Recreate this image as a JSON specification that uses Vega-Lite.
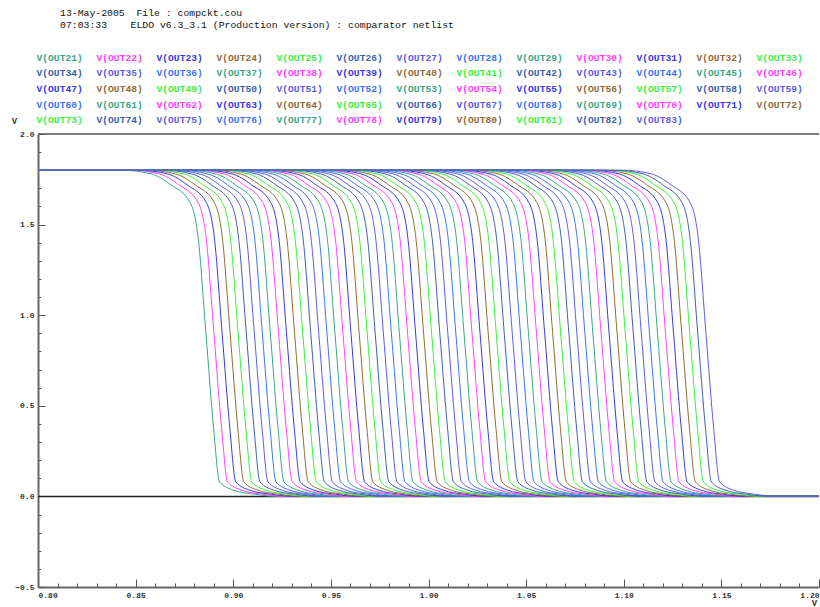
{
  "$schema": "https://vega.github.io/schema/vega-lite/v6.json",
  "width": 781,
  "height": 453,
  "autosize": {"type": "none"},
  "padding": {"left": 38, "top": 134, "right": 1, "bottom": 20},
  "background": "white",
  "title": {
    "text": ["13-May-2005\u00a0\u00a0File : compckt.cou", "\u00a007:03:33\u00a0\u00a0\u00a0\u00a0ELDO v6.3_3.1 (Production version) : comparator netlist"],
    "anchor": "start",
    "frame": "group",
    "orient": "top",
    "dx": 22,
    "dy": -15,
    "font": "Liberation Mono",
    "fontSize": 9.8,
    "fontWeight": "normal",
    "color": "#111111",
    "lineHeight": 12,
    "offset": 8
  },
  "config": {
    "view": {"stroke": null},
    "axis": {
      "labelFont": "Liberation Mono",
      "labelFontWeight": "bold",
      "labelFontSize": 8,
      "labelColor": "#333333",
      "domainColor": "#666666",
      "domainWidth": 2,
      "tickColor": "#555555",
      "grid": false,
      "titleFont": "Liberation Mono",
      "titleFontWeight": "bold",
      "titleFontSize": 9,
      "titleColor": "#333333"
    }
  },
  "datasets": {
    "curves": [
      {"s":"V(OUT21)","x":[0.8,0.8430,0.8580,0.8680,0.8780,0.8820,0.8860,0.8900,0.8930,0.9000,0.9110,0.9230,1.2],"y":[1.8,1.8,1.78,1.72,1.62,1.43,0.9,0.37,0.08,0.035,0.012,0,0]},
      {"s":"V(OUT22)","x":[0.8,0.8471,0.8621,0.8721,0.8821,0.8861,0.8901,0.8941,0.8971,0.9041,0.9151,0.9271,1.2],"y":[1.8,1.8,1.78,1.72,1.62,1.43,0.9,0.37,0.08,0.035,0.012,0,0]},
      {"s":"V(OUT23)","x":[0.8,0.8513,0.8663,0.8763,0.8863,0.8903,0.8943,0.8983,0.9013,0.9083,0.9193,0.9313,1.2],"y":[1.8,1.8,1.78,1.72,1.62,1.43,0.9,0.37,0.08,0.035,0.012,0,0]},
      {"s":"V(OUT24)","x":[0.8,0.8554,0.8704,0.8804,0.8904,0.8944,0.8984,0.9024,0.9054,0.9124,0.9234,0.9354,1.2],"y":[1.8,1.8,1.78,1.72,1.62,1.43,0.9,0.37,0.08,0.035,0.012,0,0]},
      {"s":"V(OUT25)","x":[0.8,0.8595,0.8745,0.8845,0.8945,0.8985,0.9025,0.9065,0.9095,0.9165,0.9275,0.9395,1.2],"y":[1.8,1.8,1.78,1.72,1.62,1.43,0.9,0.37,0.08,0.035,0.012,0,0]},
      {"s":"V(OUT26)","x":[0.8,0.8637,0.8787,0.8887,0.8987,0.9027,0.9067,0.9107,0.9137,0.9207,0.9317,0.9437,1.2],"y":[1.8,1.8,1.78,1.72,1.62,1.43,0.9,0.37,0.08,0.035,0.012,0,0]},
      {"s":"V(OUT27)","x":[0.8,0.8678,0.8828,0.8928,0.9028,0.9068,0.9108,0.9148,0.9178,0.9248,0.9358,0.9478,1.2],"y":[1.8,1.8,1.78,1.72,1.62,1.43,0.9,0.37,0.08,0.035,0.012,0,0]},
      {"s":"V(OUT28)","x":[0.8,0.8719,0.8869,0.8969,0.9069,0.9109,0.9149,0.9189,0.9219,0.9289,0.9399,0.9519,1.2],"y":[1.8,1.8,1.78,1.72,1.62,1.43,0.9,0.37,0.08,0.035,0.012,0,0]},
      {"s":"V(OUT29)","x":[0.8,0.8760,0.8910,0.9010,0.9110,0.9150,0.9190,0.9230,0.9260,0.9330,0.9440,0.9560,1.2],"y":[1.8,1.8,1.78,1.72,1.62,1.43,0.9,0.37,0.08,0.035,0.012,0,0]},
      {"s":"V(OUT30)","x":[0.8,0.8802,0.8952,0.9052,0.9152,0.9192,0.9232,0.9272,0.9302,0.9372,0.9482,0.9602,1.2],"y":[1.8,1.8,1.78,1.72,1.62,1.43,0.9,0.37,0.08,0.035,0.012,0,0]},
      {"s":"V(OUT31)","x":[0.8,0.8843,0.8993,0.9093,0.9193,0.9233,0.9273,0.9313,0.9343,0.9413,0.9523,0.9643,1.2],"y":[1.8,1.8,1.78,1.72,1.62,1.43,0.9,0.37,0.08,0.035,0.012,0,0]},
      {"s":"V(OUT32)","x":[0.8,0.8884,0.9034,0.9134,0.9234,0.9274,0.9314,0.9354,0.9384,0.9454,0.9564,0.9684,1.2],"y":[1.8,1.8,1.78,1.72,1.62,1.43,0.9,0.37,0.08,0.035,0.012,0,0]},
      {"s":"V(OUT33)","x":[0.8,0.8926,0.9076,0.9176,0.9276,0.9316,0.9356,0.9396,0.9426,0.9496,0.9606,0.9726,1.2],"y":[1.8,1.8,1.78,1.72,1.62,1.43,0.9,0.37,0.08,0.035,0.012,0,0]},
      {"s":"V(OUT34)","x":[0.8,0.8967,0.9117,0.9217,0.9317,0.9357,0.9397,0.9437,0.9467,0.9537,0.9647,0.9767,1.2],"y":[1.8,1.8,1.78,1.72,1.62,1.43,0.9,0.37,0.08,0.035,0.012,0,0]},
      {"s":"V(OUT35)","x":[0.8,0.9008,0.9158,0.9258,0.9358,0.9398,0.9438,0.9478,0.9508,0.9578,0.9688,0.9808,1.2],"y":[1.8,1.8,1.78,1.72,1.62,1.43,0.9,0.37,0.08,0.035,0.012,0,0]},
      {"s":"V(OUT36)","x":[0.8,0.9050,0.9200,0.9300,0.9400,0.9440,0.9480,0.9520,0.9550,0.9620,0.9730,0.9850,1.2],"y":[1.8,1.8,1.78,1.72,1.62,1.43,0.9,0.37,0.08,0.035,0.012,0,0]},
      {"s":"V(OUT37)","x":[0.8,0.9091,0.9241,0.9341,0.9441,0.9481,0.9521,0.9561,0.9591,0.9661,0.9771,0.9891,1.2],"y":[1.8,1.8,1.78,1.72,1.62,1.43,0.9,0.37,0.08,0.035,0.012,0,0]},
      {"s":"V(OUT38)","x":[0.8,0.9132,0.9282,0.9382,0.9482,0.9522,0.9562,0.9602,0.9632,0.9702,0.9812,0.9932,1.2],"y":[1.8,1.8,1.78,1.72,1.62,1.43,0.9,0.37,0.08,0.035,0.012,0,0]},
      {"s":"V(OUT39)","x":[0.8,0.9173,0.9323,0.9423,0.9523,0.9563,0.9603,0.9643,0.9673,0.9743,0.9853,0.9973,1.2],"y":[1.8,1.8,1.78,1.72,1.62,1.43,0.9,0.37,0.08,0.035,0.012,0,0]},
      {"s":"V(OUT40)","x":[0.8,0.9215,0.9365,0.9465,0.9565,0.9605,0.9645,0.9685,0.9715,0.9785,0.9895,1.0015,1.2],"y":[1.8,1.8,1.78,1.72,1.62,1.43,0.9,0.37,0.08,0.035,0.012,0,0]},
      {"s":"V(OUT41)","x":[0.8,0.9256,0.9406,0.9506,0.9606,0.9646,0.9686,0.9726,0.9756,0.9826,0.9936,1.0056,1.2],"y":[1.8,1.8,1.78,1.72,1.62,1.43,0.9,0.37,0.08,0.035,0.012,0,0]},
      {"s":"V(OUT42)","x":[0.8,0.9297,0.9447,0.9547,0.9647,0.9687,0.9727,0.9767,0.9797,0.9867,0.9977,1.0097,1.2],"y":[1.8,1.8,1.78,1.72,1.62,1.43,0.9,0.37,0.08,0.035,0.012,0,0]},
      {"s":"V(OUT43)","x":[0.8,0.9339,0.9489,0.9589,0.9689,0.9729,0.9769,0.9809,0.9839,0.9909,1.0019,1.0139,1.2],"y":[1.8,1.8,1.78,1.72,1.62,1.43,0.9,0.37,0.08,0.035,0.012,0,0]},
      {"s":"V(OUT44)","x":[0.8,0.9380,0.9530,0.9630,0.9730,0.9770,0.9810,0.9850,0.9880,0.9950,1.0060,1.0180,1.2],"y":[1.8,1.8,1.78,1.72,1.62,1.43,0.9,0.37,0.08,0.035,0.012,0,0]},
      {"s":"V(OUT45)","x":[0.8,0.9421,0.9571,0.9671,0.9771,0.9811,0.9851,0.9891,0.9921,0.9991,1.0101,1.0221,1.2],"y":[1.8,1.8,1.78,1.72,1.62,1.43,0.9,0.37,0.08,0.035,0.012,0,0]},
      {"s":"V(OUT46)","x":[0.8,0.9463,0.9613,0.9713,0.9813,0.9853,0.9893,0.9933,0.9963,1.0033,1.0143,1.0263,1.2],"y":[1.8,1.8,1.78,1.72,1.62,1.43,0.9,0.37,0.08,0.035,0.012,0,0]},
      {"s":"V(OUT47)","x":[0.8,0.9504,0.9654,0.9754,0.9854,0.9894,0.9934,0.9974,1.0004,1.0074,1.0184,1.0304,1.2],"y":[1.8,1.8,1.78,1.72,1.62,1.43,0.9,0.37,0.08,0.035,0.012,0,0]},
      {"s":"V(OUT48)","x":[0.8,0.9545,0.9695,0.9795,0.9895,0.9935,0.9975,1.0015,1.0045,1.0115,1.0225,1.0345,1.2],"y":[1.8,1.8,1.78,1.72,1.62,1.43,0.9,0.37,0.08,0.035,0.012,0,0]},
      {"s":"V(OUT49)","x":[0.8,0.9586,0.9736,0.9836,0.9936,0.9976,1.0016,1.0056,1.0086,1.0156,1.0266,1.0386,1.2],"y":[1.8,1.8,1.78,1.72,1.62,1.43,0.9,0.37,0.08,0.035,0.012,0,0]},
      {"s":"V(OUT50)","x":[0.8,0.9628,0.9778,0.9878,0.9978,1.0018,1.0058,1.0098,1.0128,1.0198,1.0308,1.0428,1.2],"y":[1.8,1.8,1.78,1.72,1.62,1.43,0.9,0.37,0.08,0.035,0.012,0,0]},
      {"s":"V(OUT51)","x":[0.8,0.9669,0.9819,0.9919,1.0019,1.0059,1.0099,1.0139,1.0169,1.0239,1.0349,1.0469,1.2],"y":[1.8,1.8,1.78,1.72,1.62,1.43,0.9,0.37,0.08,0.035,0.012,0,0]},
      {"s":"V(OUT52)","x":[0.8,0.9710,0.9860,0.9960,1.0060,1.0100,1.0140,1.0180,1.0210,1.0280,1.0390,1.0510,1.2],"y":[1.8,1.8,1.78,1.72,1.62,1.43,0.9,0.37,0.08,0.035,0.012,0,0]},
      {"s":"V(OUT53)","x":[0.8,0.9752,0.9902,1.0002,1.0102,1.0142,1.0182,1.0222,1.0252,1.0322,1.0432,1.0552,1.2],"y":[1.8,1.8,1.78,1.72,1.62,1.43,0.9,0.37,0.08,0.035,0.012,0,0]},
      {"s":"V(OUT54)","x":[0.8,0.9793,0.9943,1.0043,1.0143,1.0183,1.0223,1.0263,1.0293,1.0363,1.0473,1.0593,1.2],"y":[1.8,1.8,1.78,1.72,1.62,1.43,0.9,0.37,0.08,0.035,0.012,0,0]},
      {"s":"V(OUT55)","x":[0.8,0.9834,0.9984,1.0084,1.0184,1.0224,1.0264,1.0304,1.0334,1.0404,1.0514,1.0634,1.2],"y":[1.8,1.8,1.78,1.72,1.62,1.43,0.9,0.37,0.08,0.035,0.012,0,0]},
      {"s":"V(OUT56)","x":[0.8,0.9876,1.0026,1.0126,1.0226,1.0266,1.0306,1.0346,1.0376,1.0446,1.0556,1.0676,1.2],"y":[1.8,1.8,1.78,1.72,1.62,1.43,0.9,0.37,0.08,0.035,0.012,0,0]},
      {"s":"V(OUT57)","x":[0.8,0.9917,1.0067,1.0167,1.0267,1.0307,1.0347,1.0387,1.0417,1.0487,1.0597,1.0717,1.2],"y":[1.8,1.8,1.78,1.72,1.62,1.43,0.9,0.37,0.08,0.035,0.012,0,0]},
      {"s":"V(OUT58)","x":[0.8,0.9958,1.0108,1.0208,1.0308,1.0348,1.0388,1.0428,1.0458,1.0528,1.0638,1.0758,1.2],"y":[1.8,1.8,1.78,1.72,1.62,1.43,0.9,0.37,0.08,0.035,0.012,0,0]},
      {"s":"V(OUT59)","x":[0.8,0.9999,1.0149,1.0249,1.0349,1.0389,1.0429,1.0469,1.0499,1.0569,1.0679,1.0799,1.2],"y":[1.8,1.8,1.78,1.72,1.62,1.43,0.9,0.37,0.08,0.035,0.012,0,0]},
      {"s":"V(OUT60)","x":[0.8,1.0041,1.0191,1.0291,1.0391,1.0431,1.0471,1.0511,1.0541,1.0611,1.0721,1.0841,1.2],"y":[1.8,1.8,1.78,1.72,1.62,1.43,0.9,0.37,0.08,0.035,0.012,0,0]},
      {"s":"V(OUT61)","x":[0.8,1.0082,1.0232,1.0332,1.0432,1.0472,1.0512,1.0552,1.0582,1.0652,1.0762,1.0882,1.2],"y":[1.8,1.8,1.78,1.72,1.62,1.43,0.9,0.37,0.08,0.035,0.012,0,0]},
      {"s":"V(OUT62)","x":[0.8,1.0123,1.0273,1.0373,1.0473,1.0513,1.0553,1.0593,1.0623,1.0693,1.0803,1.0923,1.2],"y":[1.8,1.8,1.78,1.72,1.62,1.43,0.9,0.37,0.08,0.035,0.012,0,0]},
      {"s":"V(OUT63)","x":[0.8,1.0165,1.0315,1.0415,1.0515,1.0555,1.0595,1.0635,1.0665,1.0735,1.0845,1.0965,1.2],"y":[1.8,1.8,1.78,1.72,1.62,1.43,0.9,0.37,0.08,0.035,0.012,0,0]},
      {"s":"V(OUT64)","x":[0.8,1.0206,1.0356,1.0456,1.0556,1.0596,1.0636,1.0676,1.0706,1.0776,1.0886,1.1006,1.2],"y":[1.8,1.8,1.78,1.72,1.62,1.43,0.9,0.37,0.08,0.035,0.012,0,0]},
      {"s":"V(OUT65)","x":[0.8,1.0247,1.0397,1.0497,1.0597,1.0637,1.0677,1.0717,1.0747,1.0817,1.0927,1.1047,1.2],"y":[1.8,1.8,1.78,1.72,1.62,1.43,0.9,0.37,0.08,0.035,0.012,0,0]},
      {"s":"V(OUT66)","x":[0.8,1.0289,1.0439,1.0539,1.0639,1.0679,1.0719,1.0759,1.0789,1.0859,1.0969,1.1089,1.2],"y":[1.8,1.8,1.78,1.72,1.62,1.43,0.9,0.37,0.08,0.035,0.012,0,0]},
      {"s":"V(OUT67)","x":[0.8,1.0330,1.0480,1.0580,1.0680,1.0720,1.0760,1.0800,1.0830,1.0900,1.1010,1.1130,1.2],"y":[1.8,1.8,1.78,1.72,1.62,1.43,0.9,0.37,0.08,0.035,0.012,0,0]},
      {"s":"V(OUT68)","x":[0.8,1.0371,1.0521,1.0621,1.0721,1.0761,1.0801,1.0841,1.0871,1.0941,1.1051,1.1171,1.2],"y":[1.8,1.8,1.78,1.72,1.62,1.43,0.9,0.37,0.08,0.035,0.012,0,0]},
      {"s":"V(OUT69)","x":[0.8,1.0412,1.0562,1.0662,1.0762,1.0802,1.0842,1.0882,1.0912,1.0982,1.1092,1.1212,1.2],"y":[1.8,1.8,1.78,1.72,1.62,1.43,0.9,0.37,0.08,0.035,0.012,0,0]},
      {"s":"V(OUT70)","x":[0.8,1.0454,1.0604,1.0704,1.0804,1.0844,1.0884,1.0924,1.0954,1.1024,1.1134,1.1254,1.2],"y":[1.8,1.8,1.78,1.72,1.62,1.43,0.9,0.37,0.08,0.035,0.012,0,0]},
      {"s":"V(OUT71)","x":[0.8,1.0495,1.0645,1.0745,1.0845,1.0885,1.0925,1.0965,1.0995,1.1065,1.1175,1.1295,1.2],"y":[1.8,1.8,1.78,1.72,1.62,1.43,0.9,0.37,0.08,0.035,0.012,0,0]},
      {"s":"V(OUT72)","x":[0.8,1.0536,1.0686,1.0786,1.0886,1.0926,1.0966,1.1006,1.1036,1.1106,1.1216,1.1336,1.2],"y":[1.8,1.8,1.78,1.72,1.62,1.43,0.9,0.37,0.08,0.035,0.012,0,0]},
      {"s":"V(OUT73)","x":[0.8,1.0578,1.0728,1.0828,1.0928,1.0968,1.1008,1.1048,1.1078,1.1148,1.1258,1.1378,1.2],"y":[1.8,1.8,1.78,1.72,1.62,1.43,0.9,0.37,0.08,0.035,0.012,0,0]},
      {"s":"V(OUT74)","x":[0.8,1.0619,1.0769,1.0869,1.0969,1.1009,1.1049,1.1089,1.1119,1.1189,1.1299,1.1419,1.2],"y":[1.8,1.8,1.78,1.72,1.62,1.43,0.9,0.37,0.08,0.035,0.012,0,0]},
      {"s":"V(OUT75)","x":[0.8,1.0660,1.0810,1.0910,1.1010,1.1050,1.1090,1.1130,1.1160,1.1230,1.1340,1.1460,1.2],"y":[1.8,1.8,1.78,1.72,1.62,1.43,0.9,0.37,0.08,0.035,0.012,0,0]},
      {"s":"V(OUT76)","x":[0.8,1.0702,1.0852,1.0952,1.1052,1.1092,1.1132,1.1172,1.1202,1.1272,1.1382,1.1502,1.2],"y":[1.8,1.8,1.78,1.72,1.62,1.43,0.9,0.37,0.08,0.035,0.012,0,0]},
      {"s":"V(OUT77)","x":[0.8,1.0743,1.0893,1.0993,1.1093,1.1133,1.1173,1.1213,1.1243,1.1313,1.1423,1.1543,1.2],"y":[1.8,1.8,1.78,1.72,1.62,1.43,0.9,0.37,0.08,0.035,0.012,0,0]},
      {"s":"V(OUT78)","x":[0.8,1.0784,1.0934,1.1034,1.1134,1.1174,1.1214,1.1254,1.1284,1.1354,1.1464,1.1584,1.2],"y":[1.8,1.8,1.78,1.72,1.62,1.43,0.9,0.37,0.08,0.035,0.012,0,0]},
      {"s":"V(OUT79)","x":[0.8,1.0825,1.0975,1.1075,1.1175,1.1215,1.1255,1.1295,1.1325,1.1395,1.1505,1.1625,1.2],"y":[1.8,1.8,1.78,1.72,1.62,1.43,0.9,0.37,0.08,0.035,0.012,0,0]},
      {"s":"V(OUT80)","x":[0.8,1.0867,1.1017,1.1117,1.1217,1.1257,1.1297,1.1337,1.1367,1.1437,1.1547,1.1667,1.2],"y":[1.8,1.8,1.78,1.72,1.62,1.43,0.9,0.37,0.08,0.035,0.012,0,0]},
      {"s":"V(OUT81)","x":[0.8,1.0908,1.1058,1.1158,1.1258,1.1298,1.1338,1.1378,1.1408,1.1478,1.1588,1.1708,1.2],"y":[1.8,1.8,1.78,1.72,1.62,1.43,0.9,0.37,0.08,0.035,0.012,0,0]},
      {"s":"V(OUT82)","x":[0.8,1.0949,1.1099,1.1199,1.1299,1.1339,1.1379,1.1419,1.1449,1.1519,1.1629,1.1749,1.2],"y":[1.8,1.8,1.78,1.72,1.62,1.43,0.9,0.37,0.08,0.035,0.012,0,0]},
      {"s":"V(OUT83)","x":[0.8,1.0991,1.1141,1.1241,1.1341,1.1381,1.1421,1.1461,1.1491,1.1561,1.1671,1.1791,1.2],"y":[1.8,1.8,1.78,1.72,1.62,1.43,0.9,0.37,0.08,0.035,0.012,0,0]}
    ]
  },
  "layer": [
    {
      "data": {"values": [{}]},
      "mark": {"type": "rule", "color": "#222222", "strokeWidth": 1.5},
      "encoding": {
        "y": {
          "datum": 0,
          "type": "quantitative",
          "axis": {
            "orient": "left",
            "values": [-0.4,-0.3,-0.2,-0.1,0.1,0.2,0.3,0.4,0.6,0.7,0.8,0.9,1.1,1.2,1.3,1.4,1.6,1.7,1.8,1.9],
            "labels": false,
            "domain": false,
            "tickSize": -3,
            "tickWidth": 1,
            "title": null
          }
        }
      }
    },
    {
      "data": {"values": [{}]},
      "mark": {"type": "rule", "color": "#555555", "strokeWidth": 1.5},
      "encoding": {
        "x": {
          "datum": 0.8,
          "type": "quantitative",
          "axis": {
            "orient": "bottom",
            "values": [0.81,0.82,0.83,0.84,0.86,0.87,0.88,0.89,0.91,0.92,0.93,0.94,0.96,0.97,0.98,0.99,1.01,1.02,1.03,1.04,1.06,1.07,1.08,1.09,1.11,1.12,1.13,1.14,1.16,1.17,1.18,1.19],
            "labels": false,
            "domain": false,
            "tickSize": -4,
            "tickWidth": 1,
            "title": null
          }
        },
        "x2": {"datum": 1.2},
        "y": {"datum": 2, "type": "quantitative", "axis": null}
      }
    },
    {
      "data": {"name": "curves"},
      "transform": [{"flatten": ["x", "y"]}],
      "mark": {"type": "line", "interpolate": "monotone", "strokeWidth": 1},
      "encoding": {
        "x": {
          "field": "x",
          "type": "quantitative",
          "scale": {"domain": [0.8, 1.2], "nice": false, "zero": false},
          "axis": {
            "orient": "bottom",
            "values": [0.8,0.85,0.9,0.95,1.0,1.05,1.1,1.15,1.2],
            "format": ".2f",
            "tickSize": -8,
            "tickWidth": 1,
            "labelPadding": 12,
            "labelFlush": true,
            "title": "V",
            "titleX": 776,
            "titleY": 15,
            "titleAlign": "center",
            "titleBaseline": "middle"
          }
        },
        "y": {
          "field": "y",
          "type": "quantitative",
          "scale": {"domain": [-0.5, 2.0], "nice": false, "zero": false},
          "axis": {
            "orient": "left",
            "values": [-0.5,0,0.5,1.0,1.5,2.0],
            "format": ".1f",
            "tickSize": -7,
            "tickWidth": 1,
            "labelPadding": 11,
            "title": "V",
            "titleAngle": 0,
            "titleX": -24,
            "titleY": -14,
            "titleAlign": "center",
            "titleBaseline": "middle"
          }
        },
        "color": {
          "field": "s",
          "type": "nominal",
          "scale": {
            "domain": ["V(OUT21)","V(OUT22)","V(OUT23)","V(OUT24)","V(OUT25)","V(OUT26)","V(OUT27)","V(OUT28)","V(OUT29)","V(OUT30)","V(OUT31)","V(OUT32)","V(OUT33)","V(OUT34)","V(OUT35)","V(OUT36)","V(OUT37)","V(OUT38)","V(OUT39)","V(OUT40)","V(OUT41)","V(OUT42)","V(OUT43)","V(OUT44)","V(OUT45)","V(OUT46)","V(OUT47)","V(OUT48)","V(OUT49)","V(OUT50)","V(OUT51)","V(OUT52)","V(OUT53)","V(OUT54)","V(OUT55)","V(OUT56)","V(OUT57)","V(OUT58)","V(OUT59)","V(OUT60)","V(OUT61)","V(OUT62)","V(OUT63)","V(OUT64)","V(OUT65)","V(OUT66)","V(OUT67)","V(OUT68)","V(OUT69)","V(OUT70)","V(OUT71)","V(OUT72)","V(OUT73)","V(OUT74)","V(OUT75)","V(OUT76)","V(OUT77)","V(OUT78)","V(OUT79)","V(OUT80)","V(OUT81)","V(OUT82)","V(OUT83)"],
            "range": ["#3aa585","#ff40ff","#3838e0","#8f6a38","#38f038","#3a62aa","#5c5ce0","#3a72f5","#3aa585","#ff40ff","#3838e0","#8f6a38","#38f038","#3a62aa","#5c5ce0","#3a72f5","#3aa585","#ff40ff","#3838e0","#8f6a38","#38f038","#3a62aa","#5c5ce0","#3a72f5","#3aa585","#ff40ff","#3838e0","#8f6a38","#38f038","#3a62aa","#5c5ce0","#3a72f5","#3aa585","#ff40ff","#3838e0","#8f6a38","#38f038","#3a62aa","#5c5ce0","#3a72f5","#3aa585","#ff40ff","#3838e0","#8f6a38","#38f038","#3a62aa","#5c5ce0","#3a72f5","#3aa585","#ff40ff","#3838e0","#8f6a38","#38f038","#3a62aa","#5c5ce0","#3a72f5","#3aa585","#ff40ff","#3838e0","#8f6a38","#38f038","#3a62aa","#5c5ce0"]
          },
          "legend": {
            "orient": "none",
            "direction": "horizontal",
            "legendX": -11,
            "legendY": -81,
            "columns": 13,
            "title": null,
            "symbolLimit": 0,
            "symbolSize": 0,
            "symbolStrokeWidth": 0,
            "symbolOpacity": 0,
            "labelOffset": 0,
            "labelFont": "Liberation Mono",
            "labelFontWeight": "bold",
            "labelFontSize": 9.6,
            "columnPadding": 4,
            "rowPadding": 4.6,
            "gridAlign": "all",
            "padding": 0,
            "encode": {"labels": {"update": {"fill": {"scale": "color", "field": "value"}}}}
          }
        }
      }
    }
  ],
  "resolve": {"axis": {"x": "independent", "y": "independent"}}
}
